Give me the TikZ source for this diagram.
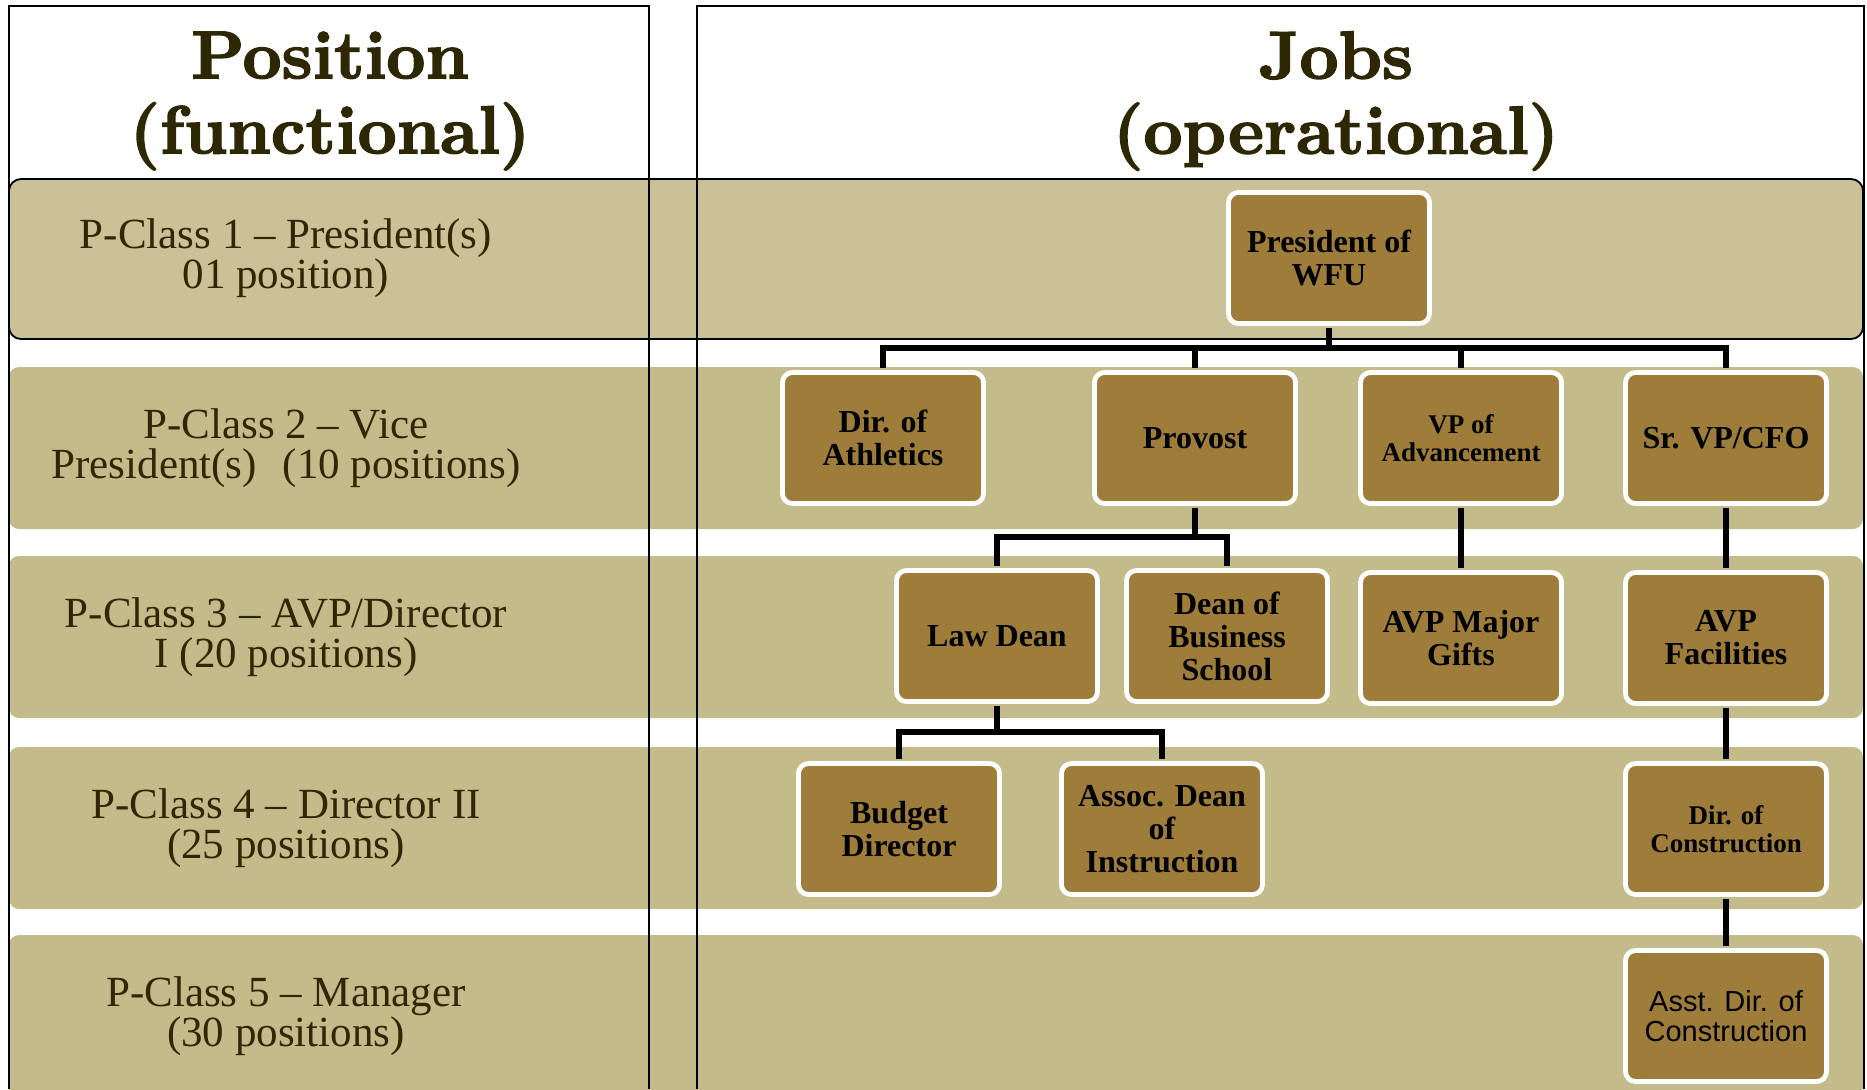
\documentclass[tikz,border=0pt]{standalone}
\usepackage{fontspec}
\newfontfamily\boxfont{Liberation Serif}[Ligatures=TeX]
\newfontfamily\boxsans{Liberation Sans}
\newfontface\headfont{lmroman10-bold}[Extension=.otf, FakeBold=2]
\definecolor{bandcol}{RGB}{196,187,138}
\definecolor{bandtex}{RGB}{202,194,150}
\definecolor{jobfill}{RGB}{158,125,58}
\definecolor{labeltext}{RGB}{45,39,3}
\tikzset{
  band/.style={fill=bandcol, rounded corners=5pt},
  job/.style={draw=white, line width=2.4pt, fill=jobfill, rounded corners=5pt,
    minimum width=100.5pt, minimum height=65.5pt, align=center, inner sep=2pt,
    font=\boxfont\bfseries\fontsize{16}{16.5}\selectfont},
  jobsmall/.style={job, font=\boxfont\bfseries\fontsize{13.5}{14.3}\selectfont},
  jobsans/.style={job, font=\boxsans\fontsize{14.5}{15}\selectfont},
  conn/.style={line width=2.6pt, shorten <=1.2pt, shorten >=1.2pt},
  klass/.style={align=center, text=labeltext, font=\boxfont\fontsize{21.5}{20.2}\selectfont},
  head/.style={align=center, text=labeltext, font=\headfont\fontsize{34}{37.5}\selectfont}
}
\begin{document}
\begin{tikzpicture}[x=0.5pt,y=-0.5pt]
        \useasboundingbox (0,0) rectangle (1867,1089);
        \filldraw[fill=bandtex, draw=black, line width=0.9pt, rounded corners=6pt] (9,179) rectangle (1863,339);
        \foreach \y in {367,556,747,935}
            \fill[band] (9,\y) rectangle (1863,\y+162);
        \draw[line width=0.9pt] (9,1089) -- (9,6) -- (649,6) -- (649,1089);
        \draw[line width=0.9pt] (697,1089) -- (697,6) -- (1864,6) -- (1864,1089);
        \node[head] (poshead) at (330,101) {Position\\(functional)};
        \node[head] (jobhead) at (1336,101) {Jobs\\(operational)};
        \node[klass] (pc1) at (286,258) {P-Class 1 -- President(s)\\01 position)};
        \node[klass] (pc2) at (286,448) {P-Class 2 -- Vice\\President(s)\hspace{0.6em}(10 positions)};
        \node[klass] (pc3) at (286,637) {P-Class 3 -- AVP/Director\\I (20 positions)};
        \node[klass] (pc4) at (286,828) {P-Class 4 -- Director II\\(25 positions)};
        \node[klass] (pc5) at (286,1016) {P-Class 5 -- Manager\\(30 positions)};
        \node[job] (pres) at (1329,258) {President of\\WFU};
        \node[job] (athl) at (883,438) {Dir. of\\Athletics};
        \node[job] (prov) at (1195,438) {Provost};
        \node[jobsmall] (vpadv) at (1461,438) {VP of\\Advancement};
        \node[job] (cfo) at (1726,438) {Sr. VP/CFO};
        \node[job] (law) at (997,636) {Law Dean};
        \node[job] (bus) at (1227,636) {Dean of\\Business\\School};
        \node[job] (gifts) at (1461,638) {AVP Major\\Gifts};
        \node[job] (facil) at (1726,638) {AVP\\Facilities};
        \node[job] (budget) at (899,829) {Budget\\Director};
        \node[job] (assoc) at (1162,829) {Assoc. Dean\\of\\Instruction};
        \node[jobsmall] (constr) at (1726,829) {Dir. of\\Construction};
        \node[jobsans] (asstc) at (1726,1016) {Asst. Dir. of\\Construction};
        \coordinate (bar1) at (0,348);
        \coordinate (bar2) at (0,537);
        \coordinate (bar3) at (0,732);
        \draw[conn] (pres.south) -- (pres.south |- bar1);
        \draw[conn] (athl.north) |- (bar1 -| cfo.north) -- (cfo.north);
        \draw[conn] (prov.north |- bar1) -- (prov.north);
        \draw[conn] (vpadv.north |- bar1) -- (vpadv.north);
        \draw[conn] (prov.south) -- (prov.south |- bar2);
        \draw[conn] (law.north) |- (bar2 -| bus.north) -- (bus.north);
        \draw[conn] (vpadv.south) -- (gifts.north);
        \draw[conn] (cfo.south) -- (facil.north);
        \draw[conn] (law.south) -- (law.south |- bar3);
        \draw[conn] (budget.north) |- (bar3 -| assoc.north) -- (assoc.north);
        \draw[conn] (facil.south) -- (constr.north);
        \draw[conn] (constr.south) -- (asstc.north);
    \end{tikzpicture}
\end{document}
